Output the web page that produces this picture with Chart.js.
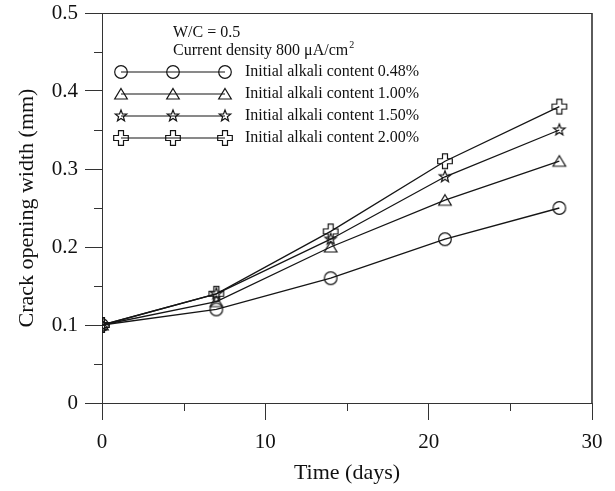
<!DOCTYPE html>
<html>
<head>
<meta charset="utf-8">
<script src="https://cdn.jsdelivr.net/npm/chart.js@4.4.0/dist/chart.umd.min.js"></script>
<style>
  html, body { margin: 0; padding: 0; background: #fff; }
</style>
</head>
<body>
<canvas id="chart" width="615" height="491"></canvas>
<script>
// ===== DATA =====
const days = [0, 7, 14, 21, 28];
const alkali048 = [0.10, 0.12, 0.16, 0.21, 0.25];
const alkali100 = [0.10, 0.13, 0.20, 0.26, 0.31];
const alkali150 = [0.10, 0.14, 0.21, 0.29, 0.35];
const alkali200 = [0.10, 0.14, 0.22, 0.31, 0.38];
const seriesLabels = [
  "Initial alkali content 0.48%",
  "Initial alkali content 1.00%",
  "Initial alkali content 1.50%",
  "Initial alkali content 2.00%"
];
const xMinorTicks = [5, 15, 25];
const yMinorTicks = [0.05, 0.15, 0.25, 0.35, 0.45];
const noteLines = ["W/C = 0.5", "Current density 800 \u03bcA/cm"];

const SERIF = "'Liberation Serif', 'Times New Roman', serif";
const INK = "#151515";

// open markers drawn on small canvases
function makeMarker(kind) {
  const c = document.createElement("canvas");
  c.width = 18; c.height = 18;
  const g = c.getContext("2d");
  g.strokeStyle = INK;
  g.lineWidth = 1.2;
  g.translate(9, 9);
  g.beginPath();
  if (kind === "circle") {
    g.arc(0, 0, 6.3, 0, Math.PI * 2);
  } else if (kind === "triangle") {
    g.moveTo(0, -5.5); g.lineTo(6.3, 5); g.lineTo(-6.3, 5); g.closePath();
  } else if (kind === "star") {
    for (let i = 0; i < 10; i++) {
      const r = i % 2 ? 2.5 : 6;
      const a = -Math.PI / 2 + i * Math.PI / 5;
      const px = r * Math.cos(a), py = r * Math.sin(a);
      if (i === 0) g.moveTo(px, py); else g.lineTo(px, py);
    }
    g.closePath();
  } else {
    const a = 2.5, b = 7.3;
    g.moveTo(-a, -b); g.lineTo(a, -b); g.lineTo(a, -a); g.lineTo(b, -a);
    g.lineTo(b, a); g.lineTo(a, a); g.lineTo(a, b); g.lineTo(-a, b);
    g.lineTo(-a, a); g.lineTo(-b, a); g.lineTo(-b, -a); g.lineTo(-a, -a);
    g.closePath();
  }
  g.stroke();
  return c;
}
const markers = [makeMarker("circle"), makeMarker("triangle"), makeMarker("star"), makeMarker("plus")];

function toPoints(ys) {
  return days.map((d, i) => ({ x: d, y: ys[i] }));
}

const seriesValues = [alkali048, alkali100, alkali150, alkali200];
const datasets = seriesValues.map((vals, i) => ({
  label: seriesLabels[i],
  data: toPoints(vals),
  showLine: true,
  borderColor: INK,
  borderWidth: 1.3,
  backgroundColor: "transparent",
  pointStyle: markers[i],
  pointRadius: 7,
  pointHoverRadius: 7
}));

// frame, minor ticks, and the in-plot legend
const decorations = {
  id: "decorations",
  afterDraw(chart) {
    const ctx = chart.ctx;
    const area = chart.chartArea;
    const xs = chart.scales.x, ys = chart.scales.y;
    ctx.save();
    ctx.strokeStyle = "#333";
    ctx.lineWidth = 1;
    ctx.beginPath();
    ctx.moveTo(area.left, Math.round(area.top) + 0.5);
    ctx.lineTo(area.right, Math.round(area.top) + 0.5);
    ctx.stroke();
    ctx.lineWidth = 1.6;
    ctx.beginPath();
    ctx.moveTo(Math.round(area.right), area.top);
    ctx.lineTo(Math.round(area.right), area.bottom);
    ctx.stroke();

    ctx.lineWidth = 1;
    ctx.beginPath();
    xMinorTicks.forEach(v => {
      const px = Math.round(xs.getPixelForValue(v)) + 0.5;
      ctx.moveTo(px, area.bottom);
      ctx.lineTo(px, area.bottom + 8);
    });
    yMinorTicks.forEach(v => {
      const py = Math.round(ys.getPixelForValue(v)) + 0.5;
      ctx.moveTo(area.left - 8, py);
      ctx.lineTo(area.left, py);
    });
    ctx.stroke();

    // legend
    ctx.fillStyle = "#111";
    ctx.textBaseline = "middle";
    ctx.font = "16px " + SERIF;
    ctx.fillText(noteLines[0], 173, 33);
    ctx.fillText(noteLines[1], 173, 51);
    const w = ctx.measureText(noteLines[1]).width;
    ctx.font = "10px " + SERIF;
    ctx.fillText("2", 173 + w + 1, 45);

    const rowY = [72, 94, 116, 138];
    const mx = [121, 173, 225];
    ctx.font = "16px " + SERIF;
    ctx.strokeStyle = INK;
    ctx.lineWidth = 1.2;
    rowY.forEach((y, i) => {
      ctx.beginPath();
      ctx.moveTo(mx[0], y);
      ctx.lineTo(mx[2], y);
      ctx.stroke();
      mx.forEach(x => ctx.drawImage(markers[i], x - 9, y - 9));
      ctx.fillText(seriesLabels[i], 245, y);
    });
    ctx.restore();
  }
};

const chart = new Chart(document.getElementById("chart"), {
  type: "scatter",
  data: { datasets },
  plugins: [decorations],
  options: {
    responsive: false,
    animation: false,
    events: [],
    layout: { padding: { left: 0, right: 23, top: 13, bottom: 0 } },
    plugins: { legend: { display: false }, tooltip: { enabled: false } },
    scales: {
      x: {
        type: "linear",
        min: 0, max: 30,
        afterFit: s => { s.height = 88; s.paddingLeft = 0; s.paddingRight = 0; },
        ticks: { stepSize: 10, color: "#111", padding: 10, font: { family: SERIF, size: 21 } },
        grid: { drawOnChartArea: false, drawTicks: true, tickLength: 17, color: "#333" },
        border: { display: true, color: "#333", width: 1 },
        title: { display: true, text: "Time (days)", color: "#111",
                 padding: { top: 0, bottom: 5 }, font: { family: SERIF, size: 22 } }
      },
      y: {
        type: "linear",
        min: 0, max: 0.5,
        afterFit: s => { s.width = 102; s.paddingTop = 0; s.paddingBottom = 0; },
        ticks: { stepSize: 0.1, color: "#111", padding: 7, font: { family: SERIF, size: 21 } },
        grid: { drawOnChartArea: false, drawTicks: true, tickLength: 17, color: "#333" },
        border: { display: true, color: "#333", width: 1 },
        title: { display: true, text: "Crack opening width (mm)", color: "#111",
                 padding: { top: 14, bottom: 0 }, font: { family: SERIF, size: 22 } }
      }
    }
  }
});
</script>
</body>
</html>
